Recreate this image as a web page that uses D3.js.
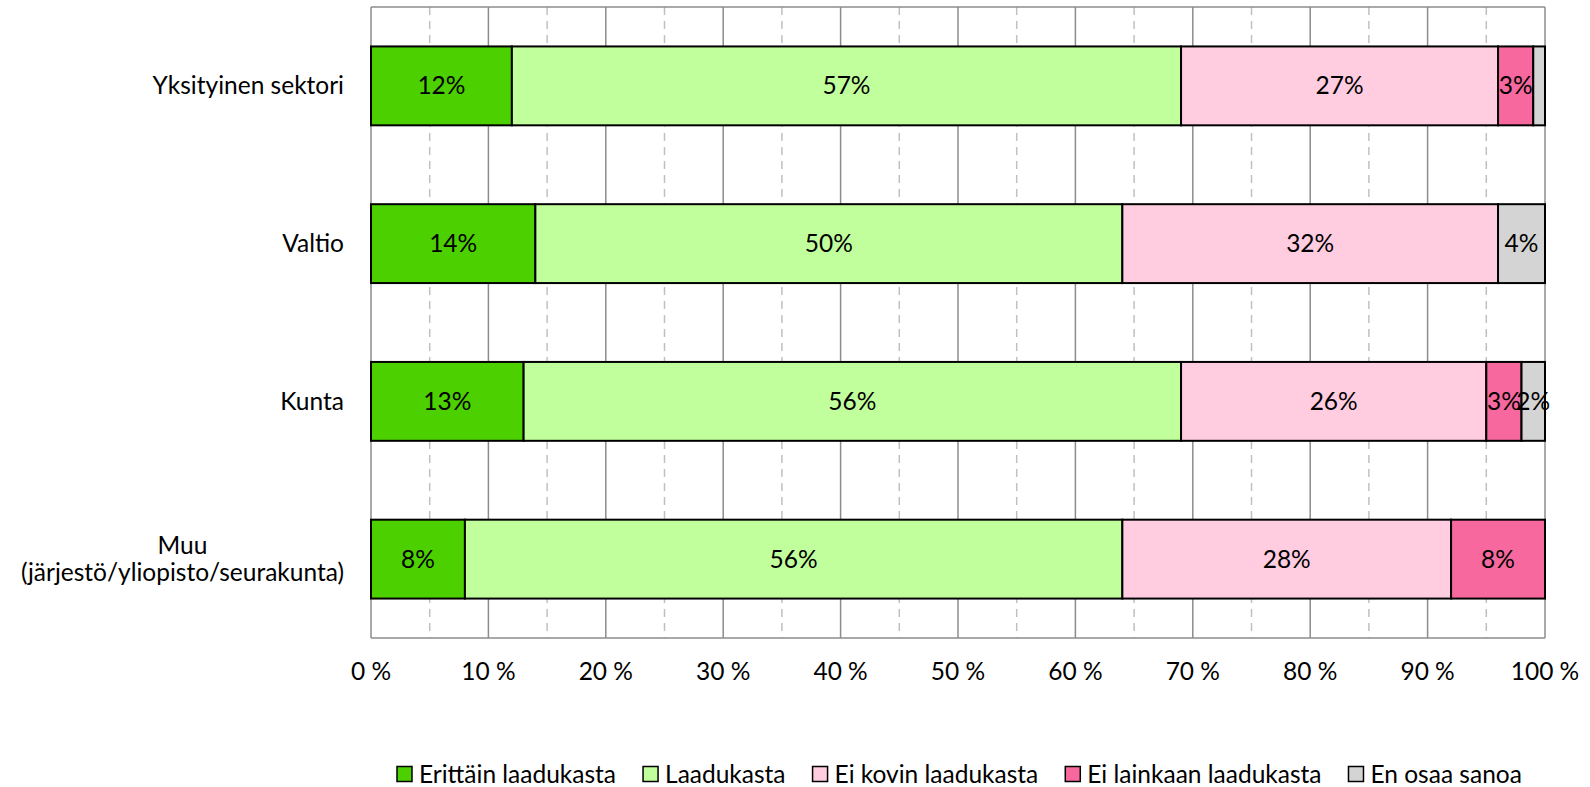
<!DOCTYPE html>
<html>
<head>
<meta charset="utf-8">
<script src="https://cdn.jsdelivr.net/npm/d3@7"></script>
<style>
  body { margin: 0; background: #fff; }
  text { font-family: Lato, "Open Sans", sans-serif; fill: #000; }
</style>
</head>
<body>
<svg id="chart" width="1590" height="787"></svg>
<script>
// categories top to bottom
const categories = [
    ['Yksityinen sektori'],
    ['Valtio'],
    ['Kunta'],
    ['Muu', '(järjestö/yliopisto/seurakunta)'],
];
const seriesNames = ['Erittäin laadukasta', 'Laadukasta', 'Ei kovin laadukasta', 'Ei lainkaan laadukasta', 'En osaa sanoa'];
const seriesColors = ['#4cd000', '#c0ff9c', '#ffcce0', '#f7689e', '#d4d4d4'];

// percentages per category, order as seriesNames
const erittain = [12, 14, 13, 8];
const laadukasta = [57, 50, 56, 56];
const eiKovin = [27, 32, 26, 28];
const eiLainkaan = [3, 0, 3, 8];
const enOsaa = [1, 4, 2, 0];
// which values get a label (the 1% slice has none in the original)
const showLabel = [
    [true, true, true, true, false],
    [true, true, true, false, true],
    [true, true, true, true, true],
    [true, true, true, true, false],
];
const xTicks = [0, 10, 20, 30, 40, 50, 60, 70, 80, 90, 100];

const svg = d3.select('#chart');
const plotLeft = 371, plotRight = 1545, plotTop = 7, plotBottom = 638;
const fs = 24.5;

const x = d3.scaleLinear().domain([0, 100]).range([plotLeft, plotRight]);
const y = d3.scaleBand()
    .domain(categories.map((c, i) => i))
    .range([plotTop, plotBottom])
    .paddingInner(0.5)
    .paddingOuter(0.25);

const rows = categories.map((c, i) => {
    const o = {key: i};
    seriesNames.forEach((s, j) => {
        o[s] = [erittain, laadukasta, eiKovin, eiLainkaan, enOsaa][j][i];
    });
    return o;
});
const stacked = d3.stack().keys(seriesNames)(rows);

// grid: dashed at 5s, solid at 10s
const grid = svg.append('g');
d3.range(5, 100, 10).forEach((v) => {
    grid.append('line')
        .attr('x1', x(v)).attr('x2', x(v))
        .attr('y1', plotTop).attr('y2', plotBottom)
        .attr('stroke', '#c0c0c0')
        .attr('stroke-width', 1.5)
        .attr('stroke-dasharray', '8,6');
});
xTicks.forEach((v) => {
    grid.append('line')
        .attr('x1', x(v)).attr('x2', x(v))
        .attr('y1', plotTop).attr('y2', plotBottom)
        .attr('stroke', '#8c8c8c')
        .attr('stroke-width', 1.5);
});
grid.append('line')
    .attr('x1', plotLeft).attr('x2', plotRight)
    .attr('y1', plotTop).attr('y2', plotTop)
    .attr('stroke', '#8c8c8c').attr('stroke-width', 1.5);
grid.append('line')
    .attr('x1', plotLeft).attr('x2', plotRight)
    .attr('y1', plotBottom).attr('y2', plotBottom)
    .attr('stroke', '#8c8c8c').attr('stroke-width', 1.5);

// bars
stacked.forEach((layer, j) => {
    svg.append('g')
        .selectAll('rect')
        .data(layer.filter((d) => d[1] > d[0]))
        .join('rect')
        .attr('x', (d) => x(d[0]))
        .attr('width', (d) => x(d[1]) - x(d[0]))
        .attr('y', (d) => y(d.data.key))
        .attr('height', y.bandwidth())
        .attr('fill', seriesColors[j])
        .attr('stroke', '#000')
        .attr('stroke-width', 2);
});

// labels
stacked.forEach((layer, j) => {
    svg.append('g')
        .selectAll('text')
        .data(layer.filter((d) => d[1] > d[0] && showLabel[d.data.key][j]))
        .join('text')
        .attr('x', (d) => x((d[0] + d[1]) / 2))
        .attr('y', (d) => y(d.data.key) + y.bandwidth() / 2)
        .attr('dy', '0.35em')
        .attr('text-anchor', 'middle')
        .attr('font-size', fs)
        .text((d) => (d[1] - d[0]) + '%');
});

// category labels
categories.forEach((lines, i) => {
    const cy = y(i) + y.bandwidth() / 2;
    const t = svg.append('text')
        .attr('font-size', fs)
        .attr('text-anchor', 'middle');
    const lh = 27;
    lines.forEach((ln, k) => {
        t.append('tspan')
            .attr('y', cy + (k - (lines.length - 1) / 2) * lh)
            .attr('dy', '0.35em')
            .text(ln);
    });
    // right-align the block, lines centred among themselves
    const w = t.node().getBBox().width;
    t.selectAll('tspan').attr('x', 344 - w / 2);
});

// x axis labels
svg.append('g')
    .selectAll('text')
    .data(xTicks)
    .join('text')
    .attr('x', (d) => x(d))
    .attr('y', 671)
    .attr('dy', '0.35em')
    .attr('text-anchor', 'middle')
    .attr('font-size', fs)
    .text((d) => d + ' %');

// legend
let lx = 397;
const ly = 774;
seriesNames.forEach((s, j) => {
    svg.append('rect')
        .attr('x', lx).attr('y', ly - 7.5)
        .attr('width', 15).attr('height', 15)
        .attr('fill', seriesColors[j])
        .attr('stroke', '#000').attr('stroke-width', 1.5);
    const t = svg.append('text')
        .attr('x', lx + 22).attr('y', ly)
        .attr('dy', '0.35em')
        .attr('font-size', fs)
        .text(s);
    lx += 22 + t.node().getComputedTextLength() + 27;
});
</script>
</body>
</html>
